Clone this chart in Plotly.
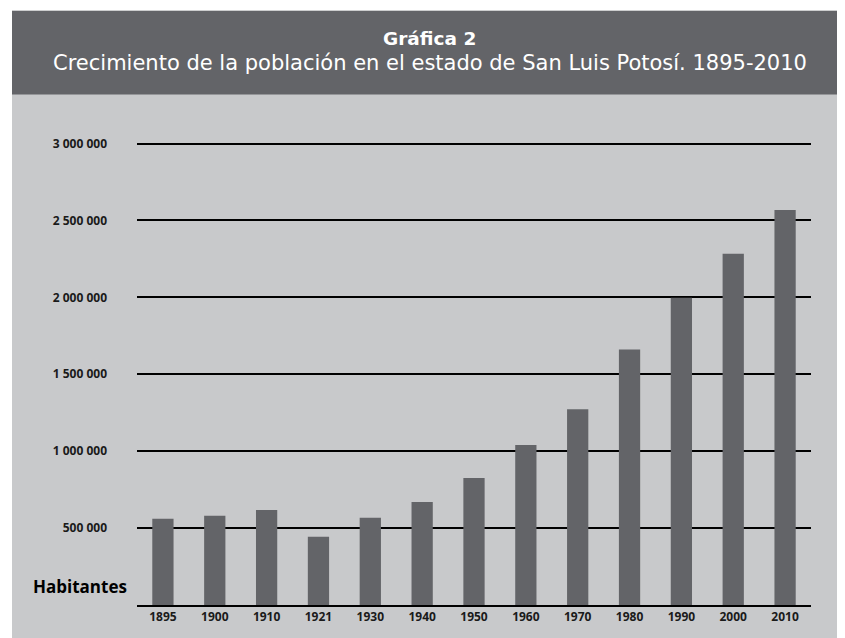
import plotly.graph_objects as go

years = ["1895", "1900", "1910", "1921", "1930", "1940", "1950",
         "1960", "1970", "1980", "1990", "2000", "2010"]
population = [560000, 580000, 618000, 444000, 567000, 670000, 826000,
              1040000, 1273000, 1661000, 1998000, 2283000, 2568000]
tick_values = [500000, 1000000, 1500000, 2000000, 2500000, 3000000]
tick_labels = ["500 000", "1 000 000", "1 500 000", "2 000 000", "2 500 000", "3 000 000"]

title = "Gráfica 2"
subtitle = "Crecimiento de la población en el estado de San Luis Potosí. 1895-2010"

DARK = "#636468"
LIGHT = "#c8c9cb"

# the page body adds an 8px margin; lay out in window pixels and shift
OFF = 8
W, H = 845 - OFF, 638 - OFF
L, R = 137 - OFF, 811 - OFF
T, B = 141.5 - OFF, 605.5 - OFF
YMAX = 3010000

def px(x):
    return (x - OFF - L) / (R - L)

def py(y):
    return (B - (y - OFF)) / (B - T)

fig = go.Figure(go.Bar(
    x=years, y=population, marker=dict(color=DARK, line=dict(width=0)),
    hoverinfo="x+y",
))

shapes = [
    dict(type="rect", xref="paper", yref="paper", x0=px(0), x1=px(860), y0=py(10), y1=py(-20),
         fillcolor="white", line=dict(width=0), layer="below"),
    dict(type="rect", xref="paper", yref="paper", x0=px(-20), x1=px(12), y0=py(660), y1=py(-20),
         fillcolor="white", line=dict(width=0), layer="below"),
    dict(type="rect", xref="paper", yref="paper", x0=px(12), x1=px(860), y0=py(94), y1=py(10),
         fillcolor=DARK, line=dict(width=0), layer="below"),
]

annotations = [
    dict(text="<b>" + title + "</b>", xref="paper", yref="paper", x=px(429), y=py(38),
         showarrow=False, font=dict(family="DejaVu Sans", size=18.5, color="white"),
         xanchor="center", yanchor="middle"),
    dict(text=subtitle, xref="paper", yref="paper", x=px(430), y=py(62),
         showarrow=False, font=dict(family="DejaVu Sans", size=21, color="white"),
         xanchor="center", yanchor="middle"),
    dict(text="<b>Habitantes</b>", xref="paper", yref="paper", x=px(129), y=py(587),
         showarrow=False, font=dict(family="Open Sans", size=17, color="black"),
         xanchor="right", yanchor="middle"),
]

fig.update_layout(
    width=W, height=H,
    margin=dict(l=L, r=W - R, t=T, b=H - B, pad=0),
    paper_bgcolor=LIGHT, plot_bgcolor=LIGHT,
    bargap=0.59,
    showlegend=False,
    shapes=shapes,
    annotations=annotations,
    xaxis=dict(
        type="category", showgrid=False, zeroline=False,
        showline=True, linecolor="black", linewidth=1.5,
        ticks="", tickfont=dict(family="Open Sans", size=12, color="#1a1a1a", weight="bold"),
        ticklabelstandoff=0,
    ),
    yaxis=dict(
        range=[0, YMAX], tickvals=tick_values, ticktext=tick_labels,
        showgrid=True, gridcolor="black", gridwidth=1.5,
        zeroline=False, showline=False, ticks="",
        tickfont=dict(family="Open Sans", size=12, color="#1a1a1a", weight="bold"),
        ticklabelstandoff=29,
    ),
)

fig.write_html("out.html")
